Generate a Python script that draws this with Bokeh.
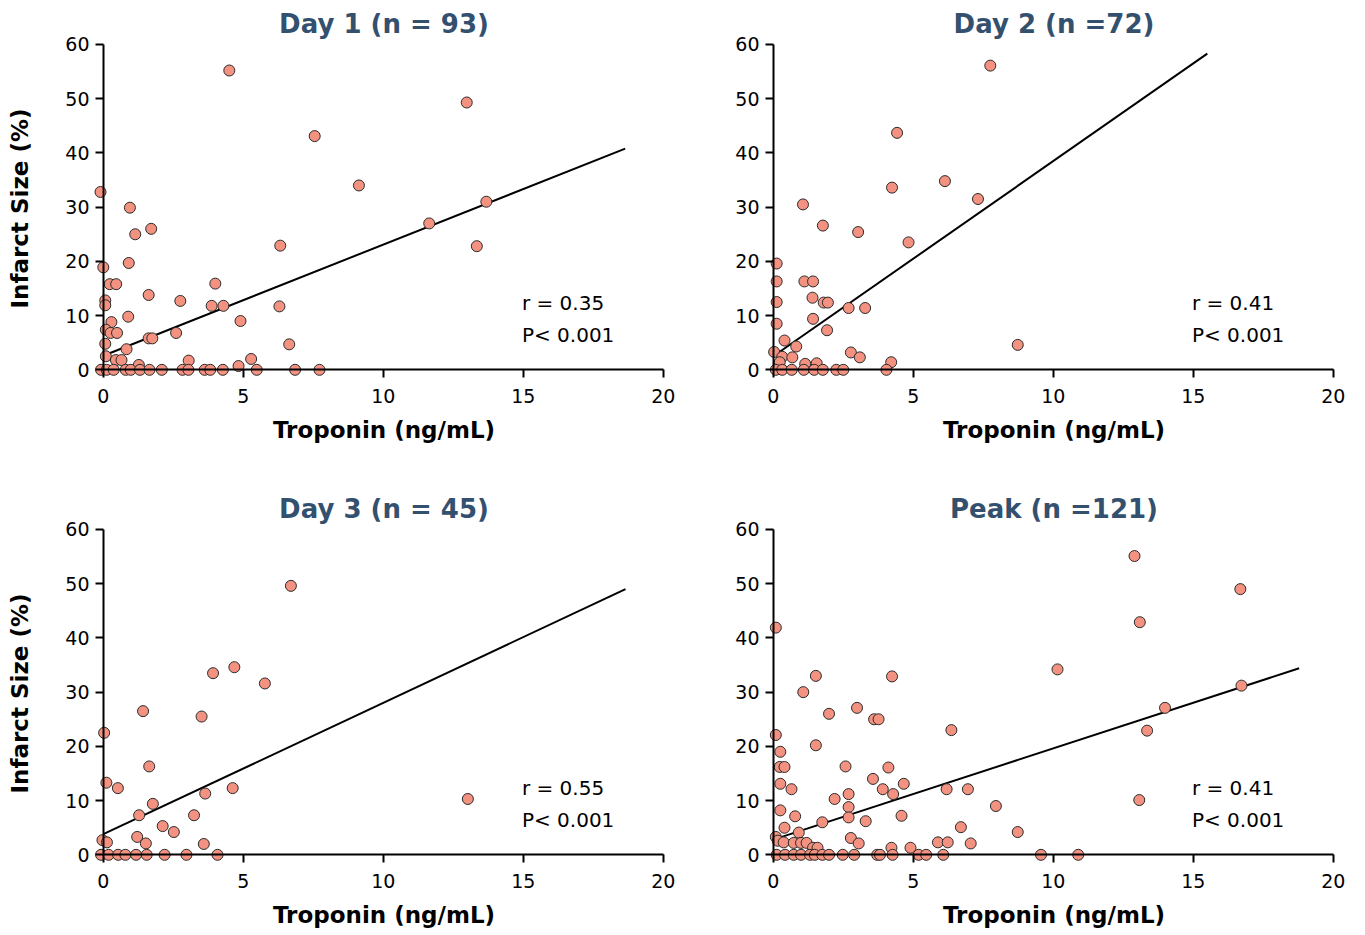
from bokeh.plotting import figure
from bokeh.layouts import gridplot
from bokeh.models import FixedTicker, Label, Range1d, LinearAxis
from bokeh.embed import file_html
from bokeh.resources import INLINE

FONT = "DejaVu Sans"
TITLE_COLOR = "#33506e"
POINT_FILL = "#f39280"

titles = ["Day 1 (n = 93)", "Day 2 (n =72)", "Day 3 (n = 45)", "Peak (n =121)"]
r_texts = ["r = 0.35", "r = 0.41", "r = 0.55", "r = 0.41"]
p_texts = ["P< 0.001", "P< 0.001", "P< 0.001", "P< 0.001"]
x_ticks = [0, 5, 10, 15, 20]
y_ticks = [0, 10, 20, 30, 40, 50, 60]
x_title = "Troponin (ng/mL)"
y_title = "Infarct Size (%)"

day1_x = [4.50, 12.98, 7.55, 9.13, -0.1, 0.95, 13.68, 11.64, 1.71, 1.14, 13.34, 6.32,
          0.0, 0.91, 0.23, 0.46, 4.0, 1.62, 0.07, 0.07, 2.75, 3.87, 4.29, 6.29, 0.89,
          4.9, 0.29, 0.09, 0.26, 0.49, 2.6, 1.62, 1.75, 0.07, 0.83, 6.64, 0.09, 0.45,
          0.65, 3.05, 5.28, 1.27, 4.83,
          -0.08, 0.12, 0.37, 0.80, 0.98, 1.31, 1.65, 2.09, 2.83, 3.04, 3.62, 3.82,
          4.27, 5.48, 6.85, 7.72]
day1_y = [55.2, 49.3, 43.1, 34.0, 32.8, 29.9, 31.0, 27.0, 26.0, 25.0, 22.8, 22.9,
          18.9, 19.7, 15.8, 15.8, 15.9, 13.8, 12.8, 11.9, 12.7, 11.8, 11.8, 11.7, 9.8,
          9.0, 8.8, 7.4, 6.8, 6.8, 6.8, 5.8, 5.8, 4.8, 3.8, 4.7, 2.5, 1.8,
          1.8, 1.7, 2.0, 0.9, 0.7,
          0, 0, 0, 0, 0, 0, 0, 0, 0, 0, 0, 0,
          0, 0, 0, 0]

day2_x = [7.75, 4.42, 4.24, 6.13, 7.31, 1.06, 1.77, 3.03, 4.83, 0.12, 0.12, 1.11,
          1.42, 0.12, 1.40, 1.80, 1.95, 2.69, 3.28, 0.12, 1.42, 1.92, 8.73, 0.40,
          0.82, 0.03, 0.32, 0.68, 0.23, 2.77, 3.09, 1.14, 1.55, 4.21,
          0.09, 0.32, 0.66, 1.09, 1.46, 1.77, 2.25, 2.50, 4.04]
day2_y = [56.1, 43.7, 33.6, 34.8, 31.5, 30.5, 26.6, 25.4, 23.5, 19.6, 16.3, 16.3,
          16.3, 12.5, 13.3, 12.4, 12.4, 11.4, 11.4, 8.5, 9.4, 7.3, 4.6, 5.4,
          4.3, 3.3, 2.4, 2.3, 1.4, 3.2, 2.3, 1.1, 1.2, 1.4,
          0, 0, 0, 0, 0, 0, 0, 0, 0]

day3_x = [6.70, 4.68, 3.92, 5.77, 1.42, 3.51, 0.03, 1.64, 0.11, 0.52, 4.62, 3.64,
          13.02, 1.77, 1.28, 3.24, 2.12, 2.52, 1.21, -0.03, 0.13, 1.52, 3.59,
          -0.08, 0.19, 0.53, 0.79, 1.17, 1.55, 2.19, 2.97, 4.08]
day3_y = [49.6, 34.6, 33.5, 31.6, 26.5, 25.5, 22.5, 16.3, 13.3, 12.3, 12.3, 11.3,
          10.3, 9.4, 7.3, 7.3, 5.3, 4.2, 3.3, 2.7, 2.3, 2.1, 2.0,
          0, 0, 0, 0, 0, 0, 0, 0, 0]

peak_x = [12.9, 16.68, 13.09, 0.09, 10.15, 1.52, 4.24, 1.07, 16.72, 2.99, 1.99, 3.6,
          3.76, 13.99, 6.36, 13.35, 0.09, 1.52, 0.25, 0.23, 0.4, 2.58, 4.11, 0.25,
          3.56, 4.66, 0.65, 3.91, 6.19, 6.95, 2.69, 4.28, 2.19, 13.07, 0.25, 2.69,
          7.95, 0.78, 2.69, 4.58, 1.75, 3.3, 0.4, 6.7, 0.91, 8.73, 0.09, 0.16, 0.37,
          0.73, 0.99, 1.19, 2.77, 3.05, 1.42, 1.58, 4.22, 4.9, 5.88, 6.23, 7.05,
          0.12, 0.42, 0.73, 0.99, 1.31, 1.48, 1.75, 1.99, 2.48, 2.89, 3.71, 3.81,
          4.26, 5.19, 5.46, 6.07, 9.56, 10.89]
peak_y = [55.1, 49.0, 42.9, 41.9, 34.2, 33.0, 32.9, 30.0, 31.2, 27.1, 26.0, 25.0,
          25.0, 27.1, 23.0, 22.9, 22.1, 20.2, 19.0, 16.2, 16.2, 16.3, 16.1, 13.1,
          14.0, 13.1, 12.1, 12.1, 12.1, 12.1, 11.2, 11.2, 10.3, 10.1, 8.2, 8.8,
          9.0, 7.1, 6.9, 7.2, 6.0, 6.2, 5.0, 5.1, 4.1, 4.2, 3.3, 2.6, 2.3,
          2.2, 2.2, 2.2, 3.1, 2.1, 1.3, 1.3, 1.3, 1.3, 2.3, 2.3, 2.1,
          0, 0, 0, 0, 0, 0, 0, 0, 0, 0, 0, 0,
          0, 0, 0, 0, 0, 0]

# regression lines (start and end points)
fit1_x = [0.0, 18.64]
fit1_y = [2.6, 40.8]
fit2_x = [0.0, 15.5]
fit2_y = [2.5, 58.3]
fit3_x = [0.0, 18.65]
fit3_y = [3.8, 49.0]
fit4_x = [0.0, 18.78]
fit4_y = [2.8, 34.4]


def line_axis(ticks, bnds):
    # axis line and ticks drawn at data 0 (inside the padded frame)
    return LinearAxis(fixed_location=0, bounds=bnds, ticker=FixedTicker(ticks=ticks),
                      minor_tick_line_color=None, major_tick_out=8, major_tick_in=0,
                      axis_line_width=2, major_tick_line_width=2,
                      axis_line_color="black", major_tick_line_color="black",
                      major_label_text_font_size="0px", major_label_text_color=None,
                      axis_label=None)


def make_panel(idx, xs, ys, fx, fy, width, height, mb_left, mb_right, mb_top, mb_bottom, ylabel):
    p = figure(width=width, height=height, output_backend="svg", toolbar_location=None,
               x_range=Range1d(-0.35, 20.4), y_range=Range1d(-1.6, 61.1),
               min_border_left=mb_left, min_border_right=mb_right, min_border_top=mb_top,
               min_border_bottom=mb_bottom, title=titles[idx])
    p.title.text_font = FONT
    p.title.text_font_size = "26px"
    p.title.text_font_style = "bold"
    p.title.text_color = TITLE_COLOR
    p.title.align = "center"
    p.title.standoff = 0
    p.outline_line_color = None
    p.background_fill_color = "white"
    p.border_fill_color = "white"
    p.xgrid.visible = False
    p.ygrid.visible = False

    xa = p.xaxis[0]
    ya = p.yaxis[0]
    xa.ticker = FixedTicker(ticks=x_ticks)
    ya.ticker = FixedTicker(ticks=y_ticks)
    for ax in (xa, ya):
        ax.axis_line_color = None
        ax.major_tick_line_color = None
        ax.minor_tick_line_color = None
        ax.major_tick_out = 0
        ax.major_tick_in = 0
        ax.major_label_text_font = FONT
        ax.major_label_text_font_size = "19px"
        ax.major_label_text_color = "black"
        ax.axis_label_text_font = FONT
        ax.axis_label_text_font_size = "23px"
        ax.axis_label_text_font_style = "bold"
        ax.axis_label_text_color = "black"
    xa.axis_label = x_title
    xa.major_label_standoff = 10
    xa.axis_label_standoff = 11
    ya.major_label_standoff = 4
    ya.axis_label_standoff = 29
    if ylabel:
        ya.axis_label = y_title

    p.add_layout(line_axis(x_ticks, (0, 20)), "below")
    p.add_layout(line_axis(y_ticks, (0, 60)), "left")

    p.line(fx, fy, line_color="black", line_width=2)
    p.scatter(xs, ys, size=11, fill_color=POINT_FILL, line_color="#2b2b2b", line_width=1)

    p.add_layout(Label(x=14.95, y=12.4, text=r_texts[idx], text_font=FONT,
                       text_font_size="20px", text_baseline="middle", text_color="black"))
    p.add_layout(Label(x=14.95, y=6.4, text=p_texts[idx], text_font=FONT,
                       text_font_size="20px", text_baseline="middle", text_color="black"))
    return p


p1 = make_panel(0, day1_x, day1_y, fit1_x, fit1_y, 703, 485, 93, 29, 38, 107, True)
p2 = make_panel(1, day2_x, day2_y, fit2_x, fit2_y, 657, 485, 60, 16, 38, 107, False)
p3 = make_panel(2, day3_x, day3_y, fit3_x, fit3_y, 703, 448, 93, 29, 38, 70, True)
p4 = make_panel(3, peak_x, peak_y, fit4_x, fit4_y, 657, 448, 60, 16, 38, 70, False)

grid = gridplot([[p1, p2], [p3, p4]], toolbar_location=None, merge_tools=False)

open("out.html", "w").write(file_html(grid, INLINE))
